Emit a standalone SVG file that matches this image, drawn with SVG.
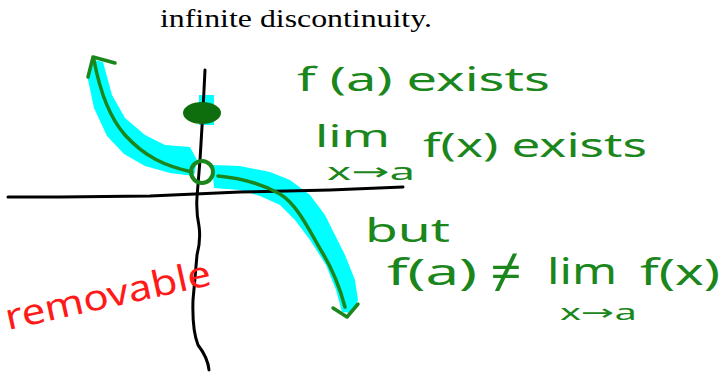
<svg xmlns="http://www.w3.org/2000/svg" width="723" height="373" viewBox="0 0 723 373">
<style>
.hl{fill:#00ffff;stroke:none}
.ink{fill:none;stroke:#1b861b;stroke-width:3.5;stroke-linecap:round;stroke-linejoin:round}
.ax{fill:none;stroke:#000;stroke-width:3;stroke-linecap:round;stroke-linejoin:round}
.hw{font-family:"Noto Sans","DejaVu Sans",sans-serif;fill:#1b861b}
.red{font-family:"Noto Sans","DejaVu Sans",sans-serif;fill:#ff1a1a}
</style>
<rect width="723" height="373" fill="#fff"/>
<text x="160" y="27" font-family="Liberation Serif, serif" font-size="26" textLength="272" lengthAdjust="spacingAndGlyphs">infinite discontinuity.</text>
<g id="highlight">
<polygon class="hl" points="94,60 103,62 112,95 125,118 145,135 165,145 190,147 197,160 194,176 170,173 145,166 124,154 107,136 94,108 87,75"/>
<polygon class="hl" points="212,165 240,166 270,172 290,180 310,195 325,215 335,235 345,255 355,280 358,300 352,313 342,312 336,290 326,265 310,240 295,220 280,205 260,196 240,190 214,188"/>
<rect class="hl" x="199" y="95" width="15" height="30"/>
</g>
<g id="axes">
<path class="ax" d="M8,197 L60,197 L150,196 L240,192 L330,190 L403,187"/>
<path class="ax" d="M205,70 L203,110 L200,160 L197,197 Q196,212 199,226 Q201,240 197,255 L193,300 Q192,330 198,345 Q208,358 209,370"/>
</g>
<g id="curve">
<path class="ink" d="M88,77 L93,57 L115,63"/>
<path class="ink" d="M94,60 C100,92 110,118 125,135 C145,157 165,166 192,172"/>
<path class="ink" d="M218,176 C240,178 262,184 280,194 C298,205 310,232 322,252 C333,270 340,288 345,307"/>
<path class="ink" d="M333,308 L347,317 L358,304"/>
</g>
<g id="point-filled">
<ellipse cx="202" cy="113" rx="19" ry="11" fill="#0e6e0e"/>
</g>
<g id="point-open">
<circle cx="202" cy="172" r="11" fill="none" stroke="#1b861b" stroke-width="4"/>
</g>
<g id="labels">
<text class="hw" x="297" y="91" font-size="32" textLength="253" lengthAdjust="spacingAndGlyphs">f (a) exists</text>
<text class="hw" x="315" y="147" font-size="30" textLength="75" lengthAdjust="spacingAndGlyphs">lim</text>
<text class="hw" x="423" y="157" font-size="32" textLength="224" lengthAdjust="spacingAndGlyphs">f(x) exists</text>
<text class="hw" x="327" y="180" font-size="24" textLength="88" lengthAdjust="spacingAndGlyphs">x→a</text>
<text class="hw" x="365" y="242" font-size="32" textLength="85" lengthAdjust="spacingAndGlyphs">but</text>
<text class="hw" x="387" y="285" font-size="36" textLength="90" lengthAdjust="spacingAndGlyphs">f(a)</text>
<text class="hw" x="490" y="288" font-size="46" textLength="32" lengthAdjust="spacingAndGlyphs">≠</text>
<text class="hw" x="547" y="284" font-size="36" textLength="70" lengthAdjust="spacingAndGlyphs">lim</text>
<text class="hw" x="640" y="285" font-size="36" textLength="80" lengthAdjust="spacingAndGlyphs">f(x)</text>
<text class="hw" x="560" y="320" font-size="22" textLength="77" lengthAdjust="spacingAndGlyphs">x→a</text>
<text class="red" x="8" y="330" font-size="36" textLength="210" lengthAdjust="spacingAndGlyphs" transform="rotate(-12.5 8 330)">removable</text>
</g>
</svg>
